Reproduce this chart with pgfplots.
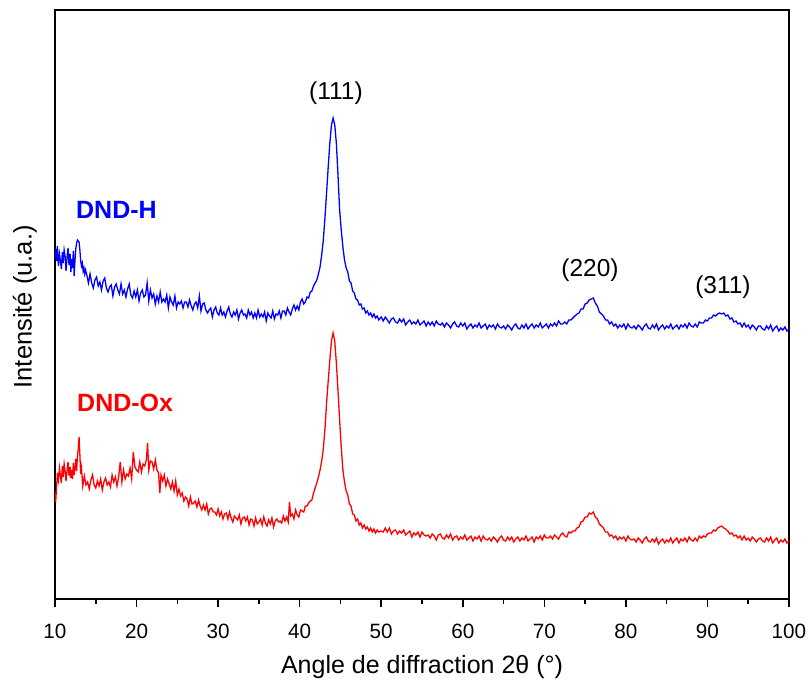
\documentclass[border=0pt]{standalone}
\usepackage{fontspec}
\setmainfont{Liberation Sans}
\usepackage{pgfplots}
\pgfplotsset{compat=1.18}
\definecolor{cblue}{RGB}{0,0,255}
\definecolor{cred}{RGB}{255,0,0}
\begin{document}
\begin{tikzpicture}
\begin{axis}[
  scale only axis,
  clip mode=individual,
  width=734bp, height=589bp,
  xmin=10, xmax=100, ymin=0, ymax=589,
  xtick={10,20,30,40,50,60,70,80,90,100},
  xticklabels={10,20,30,40,50,60,70,80,90,100},
  minor x tick num=1,
  ytick=\empty,
  xtick pos=bottom,
  tick align=outside,
  major tick length=8bp,
  minor tick length=5bp,
  tick style={line width=1.5bp, black},
  axis line style={line width=1.6bp, black},
  xticklabel style={font=\fontsize{20.7bp}{24bp}\selectfont, anchor=center, yshift=-24bp},
]
\addplot[cblue, line width=1.3bp] coordinates {
(10.0,341)(10.08,350)(10.2,338)(10.3,353)(10.42,333)(10.55,345)(10.65,339)(10.78,330)(10.9,347)(11.0,336)
(11.12,349)(11.25,342)(11.35,328)(11.5,344)(11.6,351)(11.72,334)(11.85,345)(11.95,327)(12.05,340)(12.15,331)
(12.25,348)(12.35,323)(12.45,339)(12.55,350)(12.65,356)(12.75,359)(12.85,358)(12.95,357)(13.05,349)(13.15,338)
(13.25,333)(13.35,336)(13.45,328)(13.55,331)(13.65,325)(13.75,329)
(13.9,324)(14.1,316)(14.3,325)(14.5,316)(14.7,311)(14.9,319)(15.1,322)(15.3,313)(15.5,317)(15.7,309)
(15.9,318)(16.1,321)(16.3,311)(16.5,307)(16.7,312)(16.9,314)(17.1,303)(17.3,312)(17.5,315)(17.7,309)
(17.9,305)(18.1,315)(18.3,305)(18.5,309)(18.7,302)(18.9,310)(19.1,315)(19.3,304)(19.5,301)(19.7,308)
(19.9,302)(20.1,309)(20.3,298)(20.5,306)(20.7,309)(20.9,302)(21.1,304)(21.3,316)(21.5,298)(21.7,309)
(21.9,301)(22.1,305)(22.3,295)(22.5,303)(22.7,297)(22.9,307)(23.1,297)(23.3,300)(23.5,297)(23.7,304)
(23.9,291)(24.1,302)(24.3,297)(24.5,294)(24.7,303)(24.9,291)(25.1,297)(25.3,295)(25.5,298)(25.7,291)
(25.9,297)(26.1,297)(26.3,292)(26.5,299)(26.7,293)(26.9,289)(27.1,295)(27.3,297)(27.5,291)(27.7,303)
(27.9,288)(28.1,295)(28.3,296)(28.5,289)(28.7,286)(28.9,289)(29.1,291)(29.3,282)(29.5,289)(29.7,292)
(29.9,286)(30.1,284)(30.3,291)(30.5,284)(30.7,287)(30.9,282)(31.1,288)(31.3,292)(31.5,285)(31.7,282)
(31.9,287)(32.1,284)(32.3,289)(32.5,280)(32.7,286)(32.9,289)(33.1,284)(33.3,285)(33.5,281)(33.7,289)
(33.9,284)(34.1,287)(34.3,281)(34.5,286)(34.7,281)(34.9,289)(35.1,282)(35.3,285)(35.5,282)(35.7,287)
(35.9,278)(36.1,286)(36.3,283)(36.5,281)(36.7,288)(36.9,280)(37.1,285)(37.3,284)(37.5,288)(37.7,281)
(37.9,288)(38.1,288)(38.3,284)(38.5,291)(38.7,287)(38.9,284)(39.1,290)(39.3,294)(39.5,289)(39.7,293)
(39.9,289)(40.1,297)(40.3,300)(40.5,295)(40.7,297)(40.9,302)(41.1,301)(41.3,307)(41.5,308)(41.7,313)
(41.9,316)(42.1,319)(42.3,325)(42.5,332)(42.7,344)(42.9,359)(43.1,381)(43.3,406)(43.5,432)(43.7,456)
(43.9,474)(44.1,481)(44.3,474)(44.5,456)(44.7,424)(44.9,389)(45.1,369)(45.3,352)
(45.5,339)(45.7,331)(45.9,327)(46.1,318)(46.3,316)(46.5,308)(46.7,306)(46.9,300)(47.1,299)(47.3,294)
(47.5,295)(47.7,290)(47.9,291)(48.1,286)(48.3,288)(48.5,284)(48.7,286)(48.9,282)(49.1,285)(49.3,281)
(49.5,283)(49.7,279)
(50.0,282)(50.25,278)(50.5,282)(50.75,279)(51.0,276)(51.25,280)(51.5,281)(51.75,277)(52.0,276)(52.25,280)
(52.5,277)(52.75,280)(53.0,274)(53.25,277)(53.5,279)(53.75,275)(54.0,277)(54.25,275)(54.5,279)(54.75,274)
(55.0,276)(55.25,278)(55.5,273)(55.75,277)(56.0,274)(56.25,277)(56.5,273)(56.75,278)(57.0,275)(57.25,274)
(57.5,276)(57.75,272)(58.0,276)(58.25,274)(58.5,271)(58.75,275)(59.0,277)(59.25,273)(59.5,272)(59.75,276)
(60.0,273)(60.25,276)(60.5,270)(60.75,273)(61.0,275)(61.25,271)(61.5,274)(61.75,272)(62.0,276)(62.25,271)
(62.5,273)(62.75,275)(63.0,270)(63.25,274)(63.5,272)(63.75,274)(64.0,270)(64.25,275)(64.5,272)(64.75,271)
(65.0,273)(65.25,270)(65.5,274)(65.75,272)(66.0,269)(66.25,273)(66.5,275)(66.75,271)(67.0,270)(67.25,274)
(67.5,271)(67.75,275)(68.0,270)(68.25,273)(68.5,275)(68.75,271)(69.0,274)(69.25,272)(69.5,276)(69.75,271)
(70.0,273)(70.25,275)(70.5,271)(70.75,275)(71.0,273)(71.25,276)(71.5,273)(71.75,278)(72.0,275)(72.25,275)
(72.5,277)(72.75,275)(73.0,279)(73.25,279)(73.5,281)(73.75,283)(74.0,285)(74.25,286)(74.5,290)(74.75,290)
(75.0,295)(75.25,296)(75.5,299)(75.75,300)(76.0,301)(76.25,296)(76.5,293)(76.75,287)(77.0,285)(77.25,283)
(77.5,279)(77.75,279)(78.0,275)(78.25,277)(78.5,273)(78.75,275)(79.0,271)(79.25,274)(79.5,272)(79.75,275)
(80.0,270)(80.25,275)(80.5,272)(80.75,271)(81.0,273)(81.25,270)(81.5,274)(81.75,272)(82.0,269)(82.25,273)
(82.5,275)(82.75,271)(83.0,270)(83.25,274)(83.5,271)(83.75,275)(84.0,269)(84.25,272)(84.5,274)(84.75,270)
(85.0,273)(85.25,271)(85.5,275)(85.75,270)(86.0,272)(86.25,274)(86.5,270)(86.75,274)(87.0,272)(87.25,275)
(87.5,271)(87.75,276)(88.0,273)(88.25,272)(88.5,275)(88.75,272)(89.0,277)(89.25,276)(89.5,276)(89.75,279)
(90.0,278)(90.25,281)(90.5,281)(90.75,284)(91.0,283)(91.25,285)(91.5,286)(91.75,285)(92.0,286)(92.25,283)
(92.5,284)(92.75,280)(93.0,281)(93.25,277)(93.5,278)(93.75,275)(94.0,276)(94.25,272)(94.5,276)(94.75,272)
(95.0,274)(95.25,270)(95.5,274)(95.75,272)(96.0,269)(96.25,273)(96.5,273)(96.75,270)(97.0,269)(97.25,273)
(97.5,270)(97.75,274)(98.0,268)(98.25,271)(98.5,273)(98.75,268)(99.0,271)(99.25,269)(99.5,272)(99.75,268)
(100.0,270)
};
\addplot[cred, line width=1.3bp] coordinates {
(10.0,106)(10.08,97)(10.18,110)(10.3,126)(10.42,119)(10.55,131)(10.65,124)(10.78,116)(10.9,133)(11.0,122)
(11.12,135)(11.25,127)(11.35,118)(11.5,130)(11.6,137)(11.72,123)(11.85,132)(11.95,121)(12.05,129)(12.15,120)
(12.25,136)(12.35,124)(12.45,131)(12.55,140)(12.65,128)(12.75,143)(12.85,150)(12.95,162)(13.05,144)(13.15,125)
(13.25,131)
(13.4,113)(13.6,123)(13.8,114)(14.0,117)(14.2,110)(14.4,119)(14.6,124)(14.8,114)(15.0,111)(15.2,118)
(15.4,113)(15.6,120)(15.8,109)(16.0,117)(16.2,121)(16.4,114)(16.6,117)(16.8,112)(17.0,124)(17.2,117)
(17.4,122)(17.6,113)(17.8,122)(18.0,137)(18.2,117)(18.4,129)(18.6,120)(18.8,125)(19.0,123)(19.2,131)
(19.4,120)(19.6,147)(19.8,132)(20.0,129)(20.2,127)(20.4,137)(20.6,127)(20.8,135)(21.0,133)(21.2,139)
(21.35,156)(21.5,129)(21.7,138)(21.9,137)(22.1,130)(22.3,139)(22.5,129)(22.7,126)(22.85,106)(23.0,124)
(23.2,118)(23.4,124)(23.6,113)(23.8,120)(24.0,115)(24.2,110)(24.4,117)(24.6,108)(24.8,118)(25.0,104)
(25.2,110)(25.4,103)
(25.6,106)(25.8,98)(26.0,102)(26.2,100)(26.4,93)(26.6,102)(26.8,95)(27.0,96)(27.2,98)(27.4,92)
(27.6,99)(27.8,93)(28.0,89)(28.2,94)(28.4,89)(28.6,95)(28.8,85)(29.0,90)(29.2,91)(29.4,87)
(29.6,87)(29.8,84)(30.0,90)(30.2,83)(30.4,87)(30.6,80)(30.8,85)(31.0,86)(31.2,80)(31.4,87)
(31.6,81)(31.8,77)(32.0,83)(32.2,81)(32.4,79)(32.6,84)(32.8,75)(33.0,81)(33.2,82)(33.4,78)
(33.6,82)(33.8,74)(34.0,80)(34.2,79)(34.4,73)(34.6,81)(34.8,75)(35.0,77)(35.2,80)(35.4,74)
(35.6,82)(35.8,76)(36.0,73)(36.2,79)(36.4,75)(36.6,81)(36.8,72)(37.0,78)(37.2,80)(37.4,77)
(37.6,78)(37.8,76)(38.0,83)(38.2,78)(38.4,82)(38.6,77)(38.75,97)(38.9,83)(39.1,85)(39.3,80)
(39.5,89)(39.7,84)(39.9,82)(40.1,89)(40.3,88)(40.5,87)(40.7,93)(40.9,93)(41.1,96)(41.3,98)
(41.5,99)(41.7,106)(41.9,111)(42.1,116)(42.3,122)(42.5,129)(42.7,138)(42.9,150)(43.1,170)(43.3,196)
(43.5,218)(43.7,239)(43.9,258)(44.1,266)(44.3,258)(44.5,236)(44.7,208)(44.9,179)(45.1,152)(45.3,129)
(45.5,117)(45.7,108)(45.9,104)(46.1,95)(46.3,93)(46.5,85)(46.7,84)(46.9,78)(47.1,80)(47.3,74)
(47.5,76)(47.7,71)(47.9,74)(48.1,70)(48.3,72)(48.5,68)(48.7,71)(48.9,67)(49.1,70)(49.3,66)
(49.5,69)(49.7,67)
(50.0,68)(50.25,67)(50.5,71)(50.75,67)(51.0,71)(51.25,65)(51.5,68)(51.75,69)(52.0,65)(52.25,68)
(52.5,66)(52.75,69)(53.0,64)(53.25,66)(53.5,68)(53.75,62)(54.0,66)(54.25,64)(54.5,67)(54.75,62)
(55.0,67)(55.25,64)(55.5,63)(55.75,64)(56.0,61)(56.25,65)(56.5,63)(56.75,59)(57.0,64)(57.25,65)
(57.5,61)(57.75,60)(58.0,64)(58.25,61)(58.5,65)(58.75,59)(59.0,62)(59.25,63)(59.5,59)(59.75,62)
(60.0,60)(60.25,64)(60.5,59)(60.75,61)(61.0,63)(61.25,58)(61.5,62)(61.75,60)(62.0,63)(62.25,58)
(62.5,63)(62.75,60)(63.0,59)(63.25,61)(63.5,58)(63.75,62)(64.0,60)(64.25,57)(64.5,61)(64.75,63)
(65.0,59)(65.25,58)(65.5,62)(65.75,59)(66.0,62)(66.25,57)(66.5,60)(66.75,62)(67.0,58)(67.25,61)
(67.5,59)(67.75,63)(68.0,58)(68.25,60)(68.5,62)(68.75,57)(69.0,62)(69.25,60)(69.5,63)(69.75,59)
(70.0,64)(70.25,61)(70.5,61)(70.75,63)(71.0,60)(71.25,64)(71.5,62)(71.75,60)(72.0,64)(72.25,66)
(72.5,63)(72.75,62)(73.0,67)(73.25,66)(73.5,68)(73.75,68)(74.0,71)(74.25,72)(74.5,77)(74.75,78)
(75.0,82)(75.25,82)(75.5,86)(75.75,85)(76.0,87)(76.25,82)(76.5,80)(76.75,75)(77.0,73)(77.25,71)
(77.5,67)(77.75,67)(78.0,63)(78.25,64)(78.5,61)(78.75,63)(79.0,59)(79.25,62)(79.5,60)(79.75,62)
(80.0,58)(80.25,63)(80.5,60)(80.75,59)(81.0,60)(81.25,57)(81.5,61)(81.75,59)(82.0,56)(82.25,60)
(82.5,62)(82.75,58)(83.0,57)(83.25,60)(83.5,57)(83.75,61)(84.0,55)(84.25,58)(84.5,60)(84.75,56)
(85.0,59)(85.25,57)(85.5,61)(85.75,56)(86.0,59)(86.25,61)(86.5,56)(86.75,60)(87.0,58)(87.25,61)
(87.5,57)(87.75,62)(88.0,59)(88.25,58)(88.5,61)(88.75,58)(89.0,63)(89.25,61)(89.5,63)(89.75,62)
(90.0,65)(90.25,66)(90.5,66)(90.75,69)(91.0,68)(91.25,71)(91.5,72)(91.75,73)(92.0,71)(92.25,70)
(92.5,68)(92.75,65)(93.0,66)(93.25,63)(93.5,64)(93.75,61)(94.0,63)(94.25,59)(94.5,63)(94.75,59)
(95.0,61)(95.25,58)(95.5,62)(95.75,60)(96.0,57)(96.25,60)(96.5,61)(96.75,58)(97.0,57)(97.25,61)
(97.5,58)(97.75,62)(98.0,56)(98.25,59)(98.5,61)(98.75,56)(99.0,59)(99.25,57)(99.5,60)(99.75,56)
(100.0,58)
};
\node[font=\fontsize{24.5bp}{28bp}\selectfont] at (axis cs:44.45,506) {(111)};
\node[font=\fontsize{24.5bp}{28bp}\selectfont] at (axis cs:75.6,329) {(220)};
\node[font=\fontsize{24.5bp}{28bp}\selectfont] at (axis cs:91.9,312) {(311)};
\node[font=\fontsize{25bp}{28bp}\selectfont\bfseries, text=cblue, anchor=west, inner sep=0pt] at (axis cs:12.57,389) {DND-H};
\node[font=\fontsize{25bp}{28bp}\selectfont\bfseries, text=cred, anchor=west, inner sep=0pt] at (axis cs:12.7,196) {DND-Ox};
\node[font=\fontsize{25bp}{29bp}\selectfont, anchor=center] at (axis description cs:0.5,-0.1155) {Angle de diffraction 2θ (°)};
\node[font=\fontsize{25.5bp}{29bp}\selectfont, anchor=center, rotate=90] at (axis description cs:-0.0409,0.496) {Intensité (u.a.)};
\end{axis}
\pgfresetboundingbox
\path (-55bp,-85bp) rectangle (752bp,599bp);
\end{tikzpicture}
\end{document}
